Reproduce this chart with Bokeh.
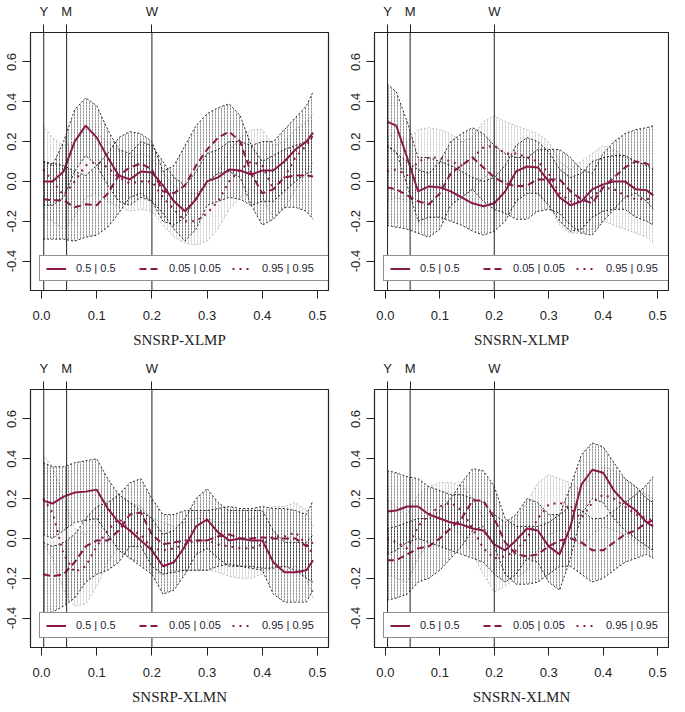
from bokeh.plotting import figure
from bokeh.models import (Range1d, Span, LinearAxis, FixedTicker, NumeralTickFormatter,
                          Legend, LegendItem)
from bokeh.layouts import gridplot
from bokeh.embed import file_html
from bokeh.resources import INLINE

freq = [0.003, 0.02, 0.04, 0.06, 0.08, 0.10, 0.12, 0.14, 0.16, 0.18, 0.20, 0.22, 0.24,
        0.26, 0.28, 0.30, 0.32, 0.34, 0.36, 0.38, 0.40, 0.42, 0.44, 0.46, 0.48, 0.492]

marker_freqs = [1 / 252, 1 / 22, 1 / 5]
marker_labels = ["Y", "M", "W"]
x_ticks = [0.0, 0.1, 0.2, 0.3, 0.4, 0.5]
y_ticks = [-0.4, -0.2, 0.0, 0.2, 0.4, 0.6]
legend_labels = ["0.5 | 0.5", "0.05 | 0.05", "0.95 | 0.95"]
titles = ["SNSRP-XLMP", "SNSRN-XLMP", "SNSRP-XLMN", "SNSRN-XLMN"]

# SNSRP-XLMP
rp_xlmp_mid = [0.00, 0.00, 0.05, 0.20, 0.28, 0.22, 0.12, 0.03, 0.01, 0.05, 0.045, -0.02, -0.10,
               -0.15, -0.09, 0.00, 0.02, 0.06, 0.055, 0.035, 0.055, 0.055, 0.10, 0.16, 0.20, 0.245]
rp_xlmp_mid_up = [0.10, 0.08, 0.20, 0.36, 0.42, 0.38, 0.26, 0.16, 0.14, 0.20, 0.18, 0.10, 0.02,
                  -0.02, 0.05, 0.14, 0.16, 0.20, 0.20, 0.18, 0.20, 0.20, 0.26, 0.32, 0.38, 0.45]
rp_xlmp_mid_dn = [-0.12, -0.12, -0.08, 0.05, 0.13, 0.08, -0.02, -0.10, -0.12, -0.08, -0.10, -0.16, -0.24,
                  -0.30, -0.24, -0.12, -0.10, -0.08, -0.09, -0.12, -0.10, -0.10, -0.05, 0.00, 0.04, 0.05]
rp_xlmp_lo = [-0.09, -0.095, -0.095, -0.13, -0.115, -0.12, -0.06, 0.03, 0.07, 0.09, 0.06, -0.05, -0.06,
              -0.02, 0.08, 0.16, 0.22, 0.25, 0.20, 0.04, -0.06, -0.04, 0.02, 0.03, 0.03, 0.025]
rp_xlmp_lo_up = [0.10, 0.09, 0.08, 0.05, 0.03, 0.08, 0.14, 0.22, 0.25, 0.24, 0.20, 0.05, 0.08,
                 0.18, 0.28, 0.34, 0.37, 0.39, 0.33, 0.18, 0.10, 0.13, 0.16, 0.18, 0.20, 0.22]
rp_xlmp_lo_dn = [-0.29, -0.29, -0.29, -0.30, -0.28, -0.27, -0.23, -0.16, -0.08, -0.06, -0.10, -0.20, -0.22,
                 -0.18, -0.08, 0.00, 0.04, 0.05, 0.02, -0.12, -0.22, -0.19, -0.13, -0.13, -0.15, -0.19]
rp_xlmp_hi = [0.06, 0.00, -0.07, 0.00, 0.08, 0.10, 0.07, 0.02, -0.01, 0.00, 0.00, -0.08, -0.14,
              -0.20, -0.20, -0.16, -0.10, 0.00, 0.06, 0.10, 0.08, -0.04, 0.02, 0.12, 0.18, 0.23]
rp_xlmp_hi_up = [0.28, 0.22, 0.18, 0.20, 0.26, 0.24, 0.20, 0.15, 0.12, 0.14, 0.12, 0.04, -0.02,
                 -0.06, -0.06, -0.02, 0.05, 0.15, 0.22, 0.26, 0.26, 0.18, 0.20, 0.26, 0.30, 0.34]
rp_xlmp_hi_dn = [-0.18, -0.20, -0.24, -0.18, -0.08, -0.06, -0.10, -0.13, -0.15, -0.14, -0.15, -0.22, -0.28,
                 -0.31, -0.32, -0.30, -0.24, -0.14, -0.08, -0.04, -0.08, -0.18, -0.14, -0.04, 0.04, 0.10]

# SNSRN-XLMP
rn_xlmp_mid = [0.30, 0.28, 0.12, -0.05, -0.025, -0.03, -0.05, -0.08, -0.11, -0.125, -0.11, -0.05, 0.05,
               0.075, 0.07, 0.00, -0.08, -0.12, -0.10, -0.04, -0.015, 0.00, 0.00, -0.04, -0.045, -0.07]
rn_xlmp_mid_up = [0.49, 0.45, 0.30, 0.12, 0.12, 0.10, 0.08, 0.05, 0.02, 0.00, 0.02, 0.08, 0.18,
                  0.22, 0.20, 0.15, 0.06, 0.02, 0.04, 0.10, 0.12, 0.13, 0.13, 0.10, 0.08, 0.06]
rn_xlmp_mid_dn = [0.18, 0.15, -0.02, -0.20, -0.18, -0.18, -0.20, -0.22, -0.25, -0.27, -0.25, -0.20, -0.10,
                  -0.06, -0.06, -0.12, -0.20, -0.25, -0.24, -0.18, -0.15, -0.14, -0.14, -0.18, -0.20, -0.22]
rn_xlmp_lo = [-0.03, -0.04, -0.07, -0.10, -0.115, -0.06, 0.04, 0.08, 0.12, 0.07, 0.02, -0.01, -0.025,
              -0.02, 0.01, 0.01, 0.01, -0.05, -0.09, -0.11, -0.03, 0.02, 0.07, 0.10, 0.09, 0.07]
rn_xlmp_lo_up = [0.18, 0.14, 0.10, 0.06, 0.04, 0.10, 0.20, 0.24, 0.27, 0.24, 0.18, 0.14, 0.12,
                 0.12, 0.16, 0.16, 0.16, 0.12, 0.06, 0.04, 0.14, 0.20, 0.24, 0.26, 0.27, 0.28]
rn_xlmp_lo_dn = [-0.22, -0.23, -0.24, -0.26, -0.28, -0.24, -0.12, -0.08, -0.04, -0.10, -0.14, -0.16, -0.19,
                 -0.19, -0.15, -0.14, -0.16, -0.22, -0.26, -0.27, -0.20, -0.14, -0.08, -0.06, -0.10, -0.14]
rn_xlmp_hi = [0.05, 0.06, 0.03, 0.10, 0.12, 0.12, 0.10, 0.08, 0.12, 0.17, 0.18, 0.14, 0.14,
              0.12, 0.10, 0.04, -0.06, -0.10, -0.10, -0.08, -0.03, -0.04, -0.07, -0.09, -0.09, -0.08]
rn_xlmp_hi_up = [0.22, 0.25, 0.20, 0.26, 0.27, 0.26, 0.24, 0.20, 0.22, 0.30, 0.33, 0.30, 0.28,
                 0.26, 0.24, 0.20, 0.10, 0.06, 0.10, 0.14, 0.18, 0.16, 0.12, 0.10, 0.08, 0.06]
rn_xlmp_hi_dn = [-0.10, -0.08, -0.10, -0.05, -0.02, -0.02, -0.05, -0.08, -0.04, 0.02, 0.04, 0.00, -0.02,
                 -0.04, -0.06, -0.12, -0.22, -0.26, -0.26, -0.24, -0.20, -0.22, -0.24, -0.26, -0.28, -0.31]

# SNSRP-XLMN
rp_xlmn_mid = [0.19, 0.175, 0.21, 0.23, 0.235, 0.245, 0.15, 0.08, 0.04, -0.01, -0.06, -0.14, -0.12,
               -0.04, 0.06, 0.095, 0.03, -0.01, 0.00, -0.01, -0.01, -0.12, -0.17, -0.17, -0.16, -0.11]
rp_xlmn_mid_up = [0.38, 0.36, 0.36, 0.38, 0.39, 0.40, 0.30, 0.22, 0.18, 0.14, 0.10, 0.02, 0.04,
                  0.10, 0.20, 0.25, 0.18, 0.14, 0.14, 0.14, 0.14, 0.04, -0.02, -0.02, -0.02, 0.02]
rp_xlmn_mid_dn = [0.02, 0.00, 0.04, 0.08, 0.09, 0.10, 0.02, -0.06, -0.10, -0.14, -0.18, -0.28, -0.26,
                  -0.18, -0.08, -0.05, -0.10, -0.14, -0.14, -0.15, -0.16, -0.28, -0.32, -0.32, -0.32, -0.26]
rp_xlmn_lo = [-0.18, -0.19, -0.18, -0.12, -0.04, -0.01, -0.01, 0.04, 0.12, 0.13, 0.02, -0.03, -0.02,
              -0.01, -0.01, -0.01, 0.01, 0.02, 0.00, 0.00, 0.005, 0.00, 0.00, 0.00, -0.04, -0.02]
rp_xlmn_lo_up = [-0.02, -0.04, -0.02, 0.02, 0.10, 0.16, 0.18, 0.22, 0.28, 0.30, 0.20, 0.12, 0.12,
                 0.14, 0.14, 0.14, 0.15, 0.16, 0.15, 0.15, 0.16, 0.15, 0.15, 0.14, 0.12, 0.19]
rp_xlmn_lo_dn = [-0.38, -0.37, -0.34, -0.30, -0.22, -0.18, -0.16, -0.12, -0.04, -0.04, -0.14, -0.18, -0.17,
                 -0.16, -0.16, -0.16, -0.14, -0.13, -0.14, -0.14, -0.15, -0.15, -0.14, -0.16, -0.20, -0.22]
rp_xlmn_hi = [0.20, 0.13, -0.08, -0.17, -0.14, -0.04, 0.04, 0.10, 0.04, 0.02, -0.05, -0.06, -0.05,
              -0.03, -0.01, -0.01, -0.03, -0.04, -0.05, -0.05, -0.03, 0.01, 0.01, 0.03, -0.03, -0.08]
rp_xlmn_hi_up = [0.42, 0.36, 0.20, 0.05, 0.02, 0.10, 0.16, 0.22, 0.18, 0.16, 0.10, 0.08, 0.06,
                 0.08, 0.10, 0.10, 0.08, 0.08, 0.08, 0.10, 0.12, 0.16, 0.16, 0.18, 0.14, 0.06]
rp_xlmn_hi_dn = [-0.02, -0.10, -0.26, -0.34, -0.33, -0.24, -0.12, -0.04, -0.10, -0.12, -0.17, -0.18, -0.16,
                 -0.16, -0.16, -0.16, -0.17, -0.19, -0.20, -0.20, -0.18, -0.14, -0.14, -0.14, -0.20, -0.30]

# SNSRN-XLMN
rn_xlmn_mid = [0.135, 0.14, 0.16, 0.16, 0.12, 0.10, 0.08, 0.07, 0.05, 0.04, -0.03, -0.06, -0.01,
               0.05, 0.04, -0.04, -0.08, 0.06, 0.27, 0.345, 0.33, 0.24, 0.18, 0.14, 0.08, 0.06]
rn_xlmn_mid_up = [0.34, 0.33, 0.31, 0.30, 0.26, 0.24, 0.22, 0.22, 0.20, 0.18, 0.12, 0.08, 0.12,
                  0.20, 0.18, 0.12, 0.12, 0.26, 0.42, 0.48, 0.46, 0.38, 0.30, 0.26, 0.20, 0.18]
rn_xlmn_mid_dn = [-0.08, -0.06, -0.02, 0.00, -0.02, -0.04, -0.06, -0.08, -0.10, -0.12, -0.18, -0.22, -0.18,
                  -0.10, -0.12, -0.22, -0.26, -0.10, 0.12, 0.20, 0.18, 0.10, 0.04, 0.00, -0.04, -0.06]
rn_xlmn_lo = [-0.11, -0.11, -0.08, -0.05, -0.04, 0.00, 0.05, 0.10, 0.19, 0.19, 0.10, -0.02, -0.08,
              -0.09, -0.08, -0.04, -0.01, 0.00, -0.02, -0.06, -0.06, -0.02, 0.02, 0.04, 0.08, 0.09]
rn_xlmn_lo_up = [0.05, 0.06, 0.08, 0.10, 0.10, 0.14, 0.20, 0.28, 0.35, 0.34, 0.26, 0.10, 0.06,
                 0.06, 0.06, 0.08, 0.12, 0.16, 0.14, 0.10, 0.10, 0.14, 0.18, 0.22, 0.27, 0.31]
rn_xlmn_lo_dn = [-0.31, -0.30, -0.28, -0.22, -0.20, -0.16, -0.10, -0.04, 0.04, 0.06, -0.04, -0.18, -0.23,
                 -0.23, -0.22, -0.18, -0.14, -0.14, -0.18, -0.22, -0.20, -0.16, -0.12, -0.10, -0.08, -0.10]
rn_xlmn_hi = [0.00, -0.02, -0.05, 0.06, 0.12, 0.16, 0.18, 0.14, 0.05, -0.05, -0.10, -0.09, -0.06,
              0.00, 0.10, 0.17, 0.18, 0.15, 0.10, 0.18, 0.22, 0.20, 0.16, 0.12, 0.10, 0.09]
rn_xlmn_hi_up = [0.20, 0.16, 0.12, 0.22, 0.26, 0.28, 0.28, 0.27, 0.20, 0.10, 0.06, 0.06, 0.10,
                 0.18, 0.28, 0.32, 0.30, 0.28, 0.24, 0.32, 0.36, 0.34, 0.30, 0.26, 0.22, 0.20]
rn_xlmn_hi_dn = [-0.18, -0.20, -0.22, -0.10, -0.02, 0.02, 0.05, 0.02, -0.08, -0.18, -0.27, -0.24, -0.20,
                 -0.16, -0.06, 0.02, 0.04, 0.02, -0.04, 0.02, 0.06, 0.04, 0.02, -0.02, -0.06, -0.10]

LINE_COLOR = "#8B1A4B"
SANS = "Liberation Sans"


def make_panel(title, series, bands, left_col, top_row):
    p = figure(frame_width=298 if left_col else 294, frame_height=258,
               x_range=Range1d(-0.02, 0.52), y_range=Range1d(-0.548, 0.748),
               output_backend="svg", toolbar_location=None,
               min_border_left=30 if left_col else 42, min_border_right=4 if left_col else 1,
               min_border_top=27 if top_row else 33, min_border_bottom=66 if top_row else 58,
               x_axis_label=title)
    p.grid.visible = False
    p.outline_line_color = "#222222"
    p.outline_line_width = 1.2

    for ax in (p.xaxis, p.yaxis):
        ax.axis_line_color = None
        ax.major_tick_out = 8
        ax.major_tick_in = 0
        ax.major_tick_line_color = "#222222"
        ax.minor_tick_line_color = None
        ax.major_label_text_font = SANS
        ax.major_label_text_font_size = "13px"
        ax.major_label_text_color = "#222222"
        ax.formatter = NumeralTickFormatter(format="0.0")
    p.xaxis.ticker = FixedTicker(ticks=x_ticks)
    p.yaxis.ticker = FixedTicker(ticks=y_ticks)
    p.xaxis.major_label_standoff = 12
    p.yaxis.major_label_standoff = 6
    p.yaxis.major_label_orientation = "vertical"
    p.xaxis.axis_label_text_font = "Liberation Serif"
    p.xaxis.axis_label_text_font_size = "15px"
    p.xaxis.axis_label_text_font_style = "normal"
    p.xaxis.axis_label_text_color = "#222222"
    p.xaxis.axis_label_standoff = 9

    top = LinearAxis(ticker=FixedTicker(ticks=marker_freqs),
                     major_label_overrides=dict(zip(marker_freqs, marker_labels)),
                     axis_line_color=None, major_tick_out=8, major_tick_in=0,
                     major_tick_line_color="#222222", minor_tick_line_color=None,
                     major_label_standoff=6, major_label_text_font=SANS,
                     major_label_text_font_size="13px", major_label_text_color="#222222")
    p.add_layout(top, "above")

    # confidence bands: dotted outlines filled with dotted vertical hatching
    for (up, dn), col, alpha in bands:
        p.varea(x=freq, y1=dn, y2=up, fill_color=None, fill_alpha=0,
                hatch_pattern="vertical_dash", hatch_color=col, hatch_scale=3,
                hatch_weight=0.8, hatch_alpha=alpha)
        p.line(freq, up, line_color=col, line_width=1, line_dash="2 2", line_alpha=0.9)
        p.line(freq, dn, line_color=col, line_width=1, line_dash="2 2", line_alpha=0.9)

    items = []
    for vals, dash, lab in zip(series, ["solid", "7 4", "2 5"], legend_labels):
        r = p.line(freq, vals, line_color=LINE_COLOR, line_width=2, line_dash=dash)
        items.append(LegendItem(label=lab, renderers=[r]))

    legend = Legend(items=items, orientation="horizontal", location=(9, 9),
                    padding=6, spacing=3, margin=0, glyph_width=20, glyph_height=9,
                    label_standoff=10, label_width=60, label_height=9,
                    label_text_font=SANS, label_text_font_size="11px",
                    label_text_color="#222233", border_line_color="#222222",
                    border_line_width=1, background_fill_color="white",
                    background_fill_alpha=1)
    p.add_layout(legend)

    for f in marker_freqs:
        p.add_layout(Span(location=f, dimension="height", line_color="#222222",
                          line_width=1, level="overlay"))
    return p


GRAY = "#b4b4b4"
BLACK = "#111111"
panels = [
    ([rp_xlmp_mid, rp_xlmp_lo, rp_xlmp_hi],
     [((rp_xlmp_hi_up, rp_xlmp_hi_dn), GRAY, 0.7), ((rp_xlmp_mid_up, rp_xlmp_mid_dn), BLACK, 0.55),
      ((rp_xlmp_lo_up, rp_xlmp_lo_dn), BLACK, 0.55)]),
    ([rn_xlmp_mid, rn_xlmp_lo, rn_xlmp_hi],
     [((rn_xlmp_hi_up, rn_xlmp_hi_dn), GRAY, 0.7), ((rn_xlmp_mid_up, rn_xlmp_mid_dn), BLACK, 0.55),
      ((rn_xlmp_lo_up, rn_xlmp_lo_dn), BLACK, 0.55)]),
    ([rp_xlmn_mid, rp_xlmn_lo, rp_xlmn_hi],
     [((rp_xlmn_hi_up, rp_xlmn_hi_dn), GRAY, 0.7), ((rp_xlmn_mid_up, rp_xlmn_mid_dn), BLACK, 0.55),
      ((rp_xlmn_lo_up, rp_xlmn_lo_dn), BLACK, 0.55)]),
    ([rn_xlmn_mid, rn_xlmn_lo, rn_xlmn_hi],
     [((rn_xlmn_hi_up, rn_xlmn_hi_dn), GRAY, 0.7), ((rn_xlmn_mid_up, rn_xlmn_mid_dn), BLACK, 0.55),
      ((rn_xlmn_lo_up, rn_xlmn_lo_dn), BLACK, 0.55)]),
]

figs = []
for i, (title, (series, bands)) in enumerate(zip(titles, panels)):
    figs.append(make_panel(title, series, bands, left_col=(i % 2 == 0), top_row=(i < 2)))

grid = gridplot([[figs[0], figs[1]], [figs[2], figs[3]]], toolbar_location=None)

open("out.html", "w").write(file_html(grid, INLINE))
